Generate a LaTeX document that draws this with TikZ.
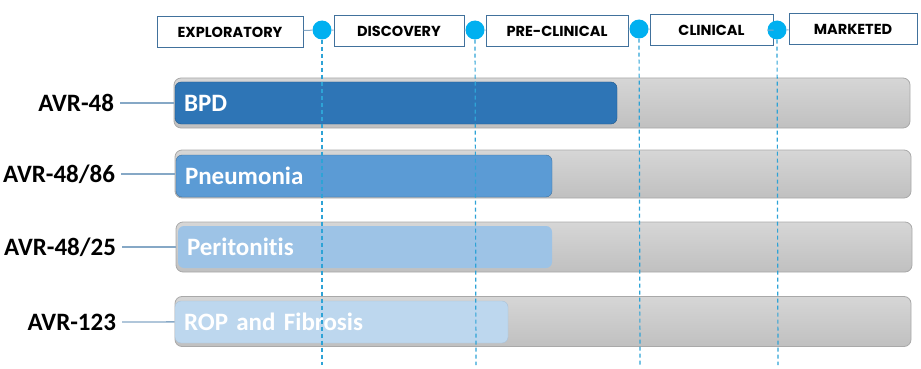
\documentclass[tikz,border=0pt]{standalone}
\usepackage{fontspec}
\setmainfont{Carlito}[Ligatures=NoCommon]
\newfontfamily\stagefont{Poppins}
\definecolor{stageline}{HTML}{41719C}
\definecolor{dot}{HTML}{00B0F0}
\definecolor{guide}{HTML}{2EA3D6}
\definecolor{link}{HTML}{86A8C6}
\definecolor{trackhi}{HTML}{D6D6D6}
\definecolor{tracklo}{HTML}{C0C0C0}
\definecolor{trackline}{HTML}{A9A9A9}
\definecolor{bpd}{HTML}{2E75B6}
\definecolor{pneu}{HTML}{5B9BD5}
\definecolor{peri}{HTML}{9DC3E6}
\definecolor{rop}{HTML}{BDD7EE}
\tikzset{
  track/.style={draw=trackline, line width=.8pt, rounded corners=7pt, top color=trackhi, bottom color=tracklo, minimum width=736pt, minimum height=50pt},
  bar/.style={rounded corners=6pt, minimum height=42pt, inner xsep=9pt, align=left, text=white, font=\bfseries\fontsize{25}{25}\selectfont},
  guideline/.style={draw=guide, line width=1.2pt, dash pattern=on 4pt off 3pt},
  linkline/.style={draw=link, line width=1.3pt}
}
\begin{document}
\begin{tikzpicture}[x=1pt, y=-1pt]
 \useasboundingbox (0,0) rectangle (921,369);
 \begin{scope}[every node/.style={draw=stageline, line width=1pt, minimum height=31pt, inner sep=0pt, font=\stagefont\bfseries\fontsize{14.5}{14.5}\selectfont}]
   \node (s1) [minimum width=146pt] at (230,32) {EXPLORATORY};
   \node (s2) [minimum width=130pt] at (399,31.5) {DISCOVERY};
   \node (s3) [minimum width=142pt] at (557,31) {PRE-CLINICAL};
   \node (s4) [minimum width=123pt] at (711.5,30.5) {CLINICAL};
   \node (s5) [minimum width=128pt] at (853,29.5) {MARKETED};
 \end{scope}
 \begin{scope}[every node/.style={circle, fill=dot, inner sep=0pt, minimum size=19pt}]
   \node (c1) at (322,30) {};
   \node (c2) at (475,30) {};
   \node (c3) at (639,29) {};
   \node (c4) at (777,30) {};
 \end{scope}
 \draw[linkline, line width=1pt] (s1) -- (c1) -- (s2) -- (c2) -- (s3) -- (c3) -- (s4) -- (c4) -- (s5);
 \begin{scope}[every node/.style={anchor=east, inner sep=0pt, outer sep=6pt, font=\bfseries\fontsize{25}{25}\selectfont}]
   \node (l1) at (120,103) {AVR-48};
   \node (l2) at (121,174) {AVR-48/86};
   \node (l3) at (122,247) {AVR-48/25};
   \node (l4) at (122,322) {AVR-123};
 \end{scope}
 \node (t1) [track] at (542,103) {};
 \node (t2) [track, minimum height=48pt] at (543,174) {};
 \node (t3) [track] at (544,247) {};
 \node (t4) [track] at (543,321.5) {};
 \draw[linkline] (l1) -- (t1);
 \draw[linkline] (l2) -- (t2);
 \draw[linkline] (l3) -- (t3);
 \draw[linkline] (l4) -- (t4);
 \node (b1) [bar, fill=bpd, draw=bpd!75!black, text width=424pt] at (396,103) {BPD};
 \node (b2) [bar, fill=pneu, draw=stageline, text width=358pt] at (364,176) {Pneumonia};
 \node (b3) [bar, fill=peri, text width=356pt] at (365,247) {Peritonitis};
 \node (b4) [bar, fill=rop, draw=rop!90!black, text width=315pt] at (341.5,322) {ROP and Fibrosis};
 \coordinate (e1) at (322,365);
 \coordinate (e2) at (476,365);
 \coordinate (e3) at (640,365);
 \coordinate (e4) at (778,365);
 \draw[guideline] (c1) -- (e1);
 \draw[guideline] (c2) -- (e2);
 \draw[guideline] (c3) -- (e3);
 \draw[guideline] (c4) -- (e4);
\end{tikzpicture}
\end{document}
